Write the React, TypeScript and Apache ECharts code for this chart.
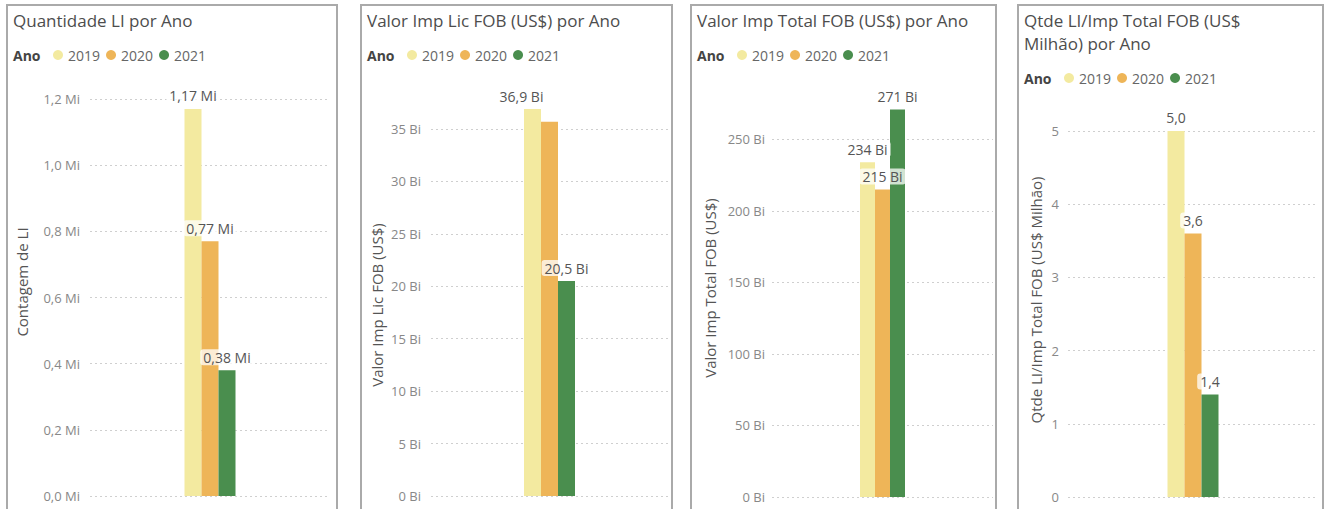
import { useEffect, useRef } from 'react';
import * as echarts from 'echarts';

// ---- Data ----
const years = ['2019', '2020', '2021'];
const quantidadeLI = [1.17, 0.77, 0.38]; // Mi
const valorImpLic = [36.9, 35.7, 20.5]; // Bi
const valorImpTotal = [234, 215, 271]; // Bi
const qtdePorMilhao = [5.0, 3.6, 1.4];

const panelTitles = [
  'Quantidade LI por Ano',
  'Valor Imp Lic FOB (US$) por Ano',
  'Valor Imp Total FOB (US$) por Ano',
  'Qtde LI/Imp Total FOB (US$\nMilhão) por Ano',
];
const axisNames = [
  'Contagem de LI',
  'Valor Imp Lic FOB (US$)',
  'Valor Imp Total FOB (US$)',
  'Qtde LI/Imp Total FOB (US$ Milhão)',
];
const legendTitle = 'Ano';

// ---- Style ----
const yearColors = ['#F3EAA0', '#EEB558', '#4A8E4E'];
const FONT = '"Open Sans", sans-serif';

const comma = (s: string) => s.replace('.', ',');

const panels = [
  {
    values: quantidadeLI,
    bx: 7, bw: 330, tx: 13, legendY: 55, iconLeft: 53,
    grid: { left: 90, right: 1325 - 330, top: 99, bottom: 13 },
    max: 1.2, interval: 0.2, showMax: true,
    axisFmt: (v: number) => comma(v.toFixed(1)) + ' Mi',
    labelFmt: (v: number) => comma(v.toFixed(2)) + ' Mi',
    barWidth: 17, nameX: 22, nameY: 282, margin: 10,
    hidden: [] as number[], offsets: {} as Record<number, number[]>,
  },
  {
    values: valorImpLic,
    bx: 361, bw: 311, tx: 367, legendY: 55, iconLeft: 407,
    grid: { left: 431, right: 1325 - 668, top: 99, bottom: 13 },
    max: 37.86, interval: 5, showMax: false,
    axisFmt: (v: number) => Math.round(v) + ' Bi',
    labelFmt: (v: number) => comma(v.toFixed(1)) + ' Bi',
    barWidth: 17, nameX: 377, nameY: 305, margin: 10,
    hidden: [1], offsets: { 0: [-11, 0] } as Record<number, number[]>,
  },
  {
    values: valorImpTotal,
    bx: 691, bw: 305, tx: 697, legendY: 55, iconLeft: 737,
    grid: { left: 772, right: 1325 - 993, top: 99, bottom: 12 },
    max: 278.3, interval: 50, showMax: false,
    axisFmt: (v: number) => Math.round(v) + ' Bi',
    labelFmt: (v: number) => v.toFixed(0) + ' Bi',
    barWidth: 15, nameX: 710, nameY: 288, margin: 7,
    hidden: [] as number[], offsets: {} as Record<number, number[]>,
  },
  {
    values: qtdePorMilhao,
    bx: 1018, bw: 305, tx: 1024, legendY: 78, iconLeft: 1064,
    grid: { left: 1068, right: 7, top: 120, bottom: 12 },
    max: 5.15, interval: 1, showMax: false,
    axisFmt: (v: number) => String(Math.round(v)),
    labelFmt: (v: number) => comma(v.toFixed(1)),
    barWidth: 17, nameX: 1036, nameY: 300, margin: 9,
    hidden: [] as number[], offsets: {} as Record<number, number[]>,
  },
];

function buildOption() {
  const title: any[] = [];
  const legend: any[] = [];
  const grid: any[] = [];
  const xAxis: any[] = [];
  const yAxis: any[] = [];
  const series: any[] = [];
  const graphic: any[] = [];

  panels.forEach((p, gi) => {
    graphic.push({
      type: 'rect',
      shape: { x: p.bx, y: 5, width: p.bw, height: 700 },
      style: { fill: 'none', stroke: '#aaaaaa', lineWidth: 2 },
      silent: true,
    });
    graphic.push({
      type: 'text',
      x: p.tx,
      y: p.legendY,
      style: {
        text: legendTitle,
        font: `bold 14px ${FONT}`,
        fill: '#444444',
        textAlign: 'left',
        align: 'left',
        textVerticalAlign: 'middle',
        verticalAlign: 'middle',
      },
      silent: true,
    });
    graphic.push({
      type: 'text',
      x: p.nameX,
      y: p.nameY,
      rotation: Math.PI / 2,
      style: {
        text: axisNames[gi],
        font: `15px ${FONT}`,
        fill: '#555555',
        textAlign: 'center',
        align: 'center',
        textVerticalAlign: 'middle',
        verticalAlign: 'middle',
      },
      silent: true,
    });

    title.push({
      text: panelTitles[gi],
      left: p.tx,
      top: 9,
      padding: 0,
      textStyle: {
        fontFamily: FONT,
        fontSize: 17,
        fontWeight: 'normal',
        color: '#4d4d4d',
        lineHeight: 23,
      },
    });

    legend.push({
      left: p.iconLeft,
      top: p.legendY - 8,
      padding: 0,
      orient: 'horizontal',
      itemWidth: 10,
      itemHeight: 10,
      itemGap: 6,
      icon: 'circle',
      selectedMode: false,
      data: years,
      textStyle: { fontFamily: FONT, fontSize: 14, color: '#666666', lineHeight: 16 },
    });

    grid.push({
      left: p.grid.left,
      right: p.grid.right,
      top: p.grid.top,
      bottom: p.grid.bottom,
      containLabel: false,
      outerBoundsMode: 'none',
    });

    xAxis.push({
      type: 'category',
      gridIndex: gi,
      data: [legendTitle],
      show: false,
    });

    yAxis.push({
      type: 'value',
      gridIndex: gi,
      min: 0,
      max: p.max,
      interval: p.interval,
      axisLine: { show: false },
      axisTick: { show: false },
      axisLabel: {
        formatter: (v: number) => p.axisFmt(v),
        color: '#888888',
        fontFamily: FONT,
        fontSize: 13,
        margin: p.margin,
        showMaxLabel: p.showMax,
      },
      splitLine: {
        show: true,
        showMaxLine: p.showMax,
        lineStyle: { color: '#cfcfcf', width: 1, type: [2, 3] },
      },
    });

    years.forEach((y, yi) => {
      const item: any = { value: p.values[yi] };
      if (p.hidden.includes(yi)) item.label = { show: false };
      if (p.offsets[yi]) item.label = { ...(item.label || {}), offset: p.offsets[yi] };
      series.push({
        type: 'bar',
        name: y,
        xAxisIndex: gi,
        yAxisIndex: gi,
        barWidth: p.barWidth,
        barGap: '0%',
        itemStyle: { color: yearColors[yi] },
        emphasis: { disabled: true },
        data: [item],
        label: {
          show: true,
          position: 'top',
          distance: 5,
          formatter: (prm: any) => p.labelFmt(prm.value),
          fontFamily: FONT,
          fontSize: 14,
          color: '#555555',
          backgroundColor: 'rgba(255,255,255,0.75)',
          padding: [1, 3],
          borderRadius: 3,
        },
      });
    });
  });

  return {
    animation: false,
    backgroundColor: '#ffffff',
    textStyle: { fontFamily: FONT },
    color: yearColors,
    title,
    legend,
    grid,
    xAxis,
    yAxis,
    series,
    graphic,
  };
}

export default function App() {
  const ref = useRef<HTMLDivElement>(null);
  useEffect(() => {
    if (!ref.current) return;
    const chart = echarts.init(ref.current, null, { renderer: 'svg' });
    chart.setOption(buildOption() as any);
    return () => chart.dispose();
  }, []);
  return (
    <div
      ref={ref}
      style={{ position: 'fixed', left: 0, top: 0, width: 1325, height: 509, background: '#fff' }}
    />
  );
}
